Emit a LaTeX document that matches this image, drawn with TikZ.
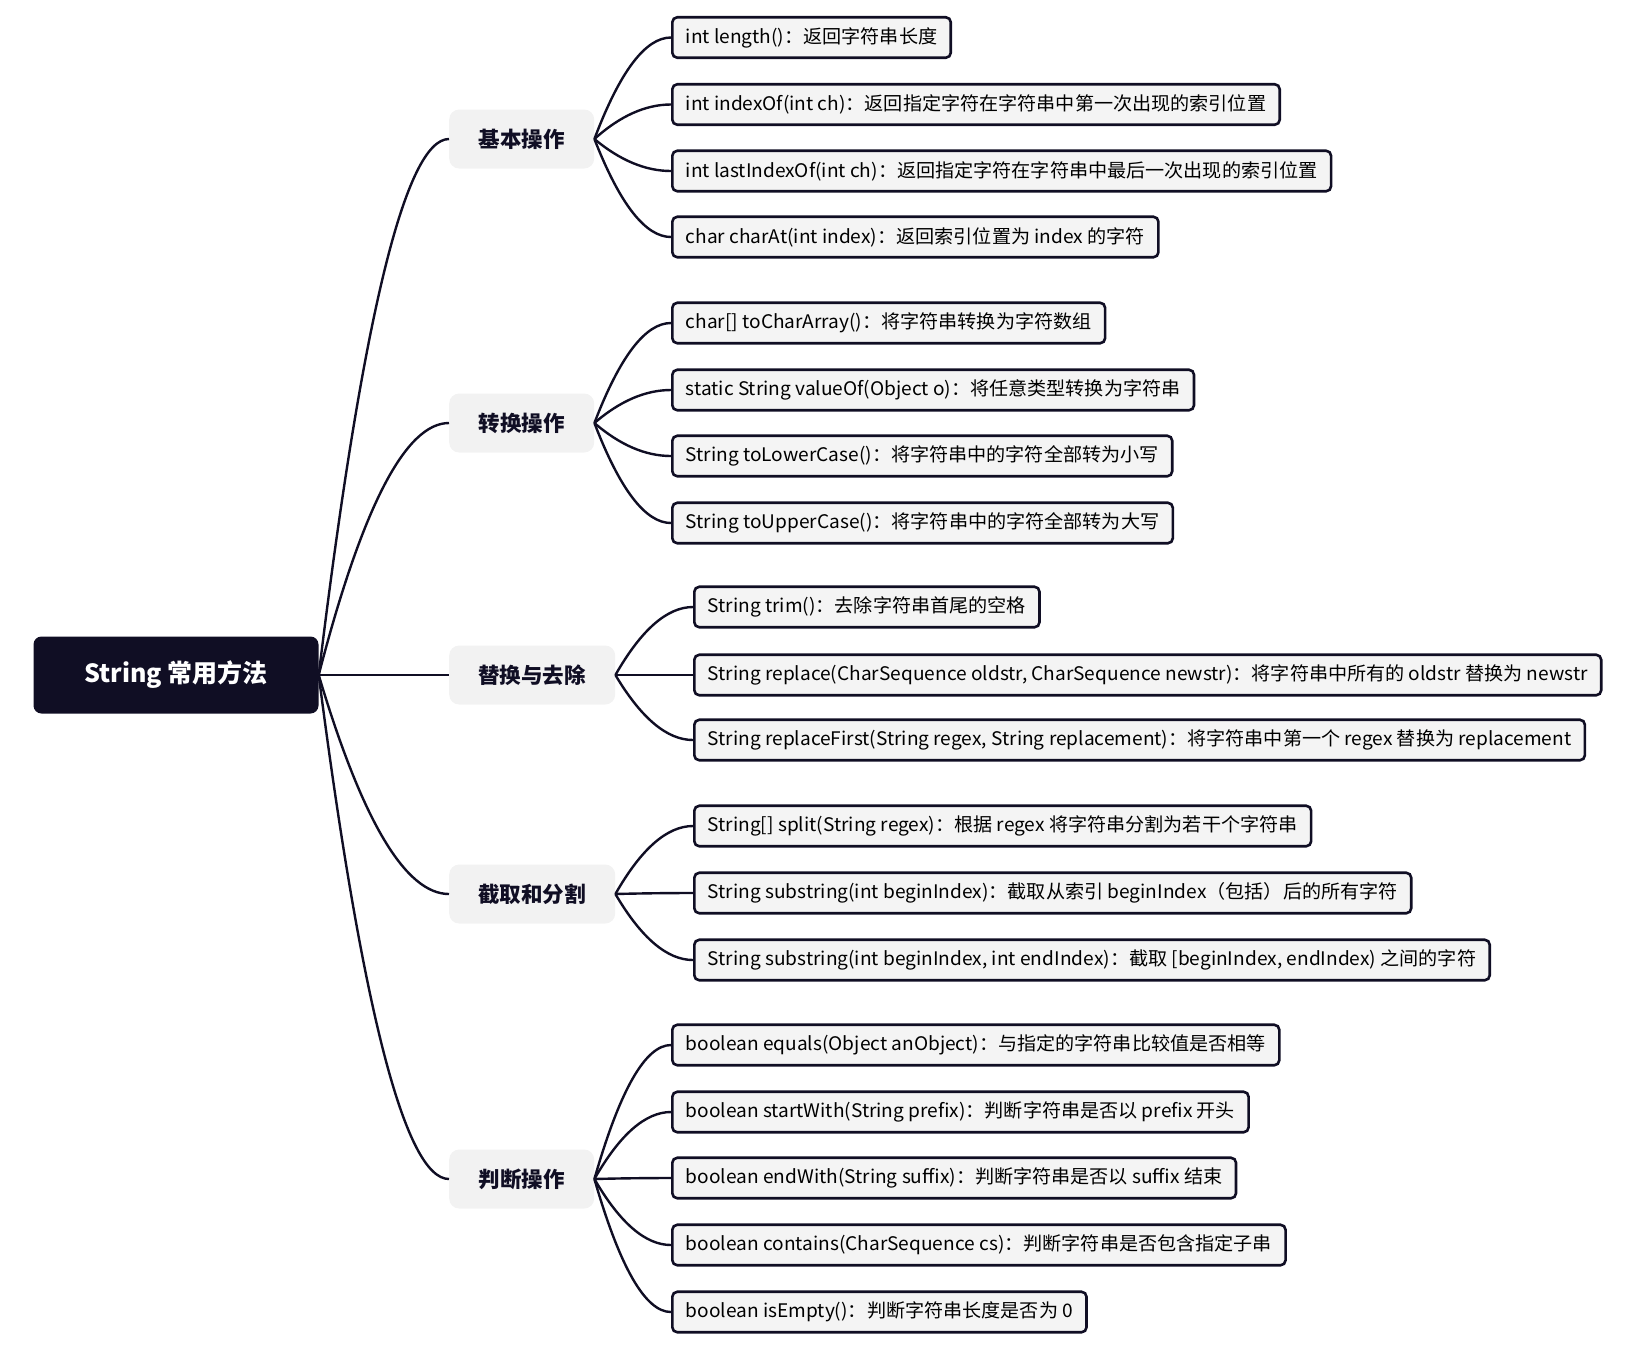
\documentclass[tikz,border=0pt]{standalone}
\usepackage{fontspec}
\setmainfont{Noto Sans CJK SC}
\newfontfamily\leaffont[FakeStretch=1.022]{Noto Sans CJK SC}
\usetikzlibrary{calc}
\definecolor{ink}{HTML}{100E24}
\definecolor{leaffill}{HTML}{F4F4F4}
\definecolor{brfill}{HTML}{F2F2F2}
\newcommand{\mlink}[2]{\draw[link] let \p1=(#1.east), \p2=(#2.west) in (\p1) .. controls ({\x1+(\x2-\x1)/3}, {\y1+2*(\y2-\y1)/3}) and ({\x2-(\x2-\x1)/3}, \y2) .. (\p2);}
\begin{document}
\begin{tikzpicture}[x=1pt,y=-1pt,
 rootbox/.style={fill=ink, rounded corners=8pt, text=white, font=\fontsize{25}{30}\selectfont\bfseries, minimum width=285pt, minimum height=77pt, inner sep=0pt},
 branch/.style={fill=brfill, rounded corners=10pt, text=ink, font=\fontsize{21.5}{26}\selectfont\bfseries, minimum height=59pt, inner sep=0pt, anchor=west},
 leaf/.style={draw=ink, line width=2.6pt, fill=leaffill, rounded corners=5pt, font=\leaffont\fontsize{18.7}{22}\selectfont, text=black, minimum height=40.5pt, inner xsep=13.5pt, inner ysep=0pt, anchor=west},
 link/.style={draw=ink, line width=2.4pt}
]
\useasboundingbox (0,0) rectangle (1648,1345);
\node[rootbox] (root) at (176,675) {String 常用方法};
\node[branch, minimum width=145pt] (b1) at (449,139) {基本操作};
\node[branch, minimum width=145pt] (b2) at (449,423) {转换操作};
\node[branch, minimum width=166pt] (b3) at (449,675) {替换与去除};
\node[branch, minimum width=166pt] (b4) at (449,894) {截取和分割};
\node[branch, minimum width=145pt] (b5) at (449,1179) {判断操作};
% leaves
\node[leaf] (l1) at (671,37.5) {int length()：返回字符串长度};
\node[leaf] (l2) at (671,104.5) {int indexOf(int ch)：返回指定字符在字符串中第一次出现的索引位置};
\node[leaf] (l3) at (671,171) {int lastIndexOf(int ch)：返回指定字符在字符串中最后一次出现的索引位置};
\node[leaf] (l4) at (671,237) {char charAt(int index)：返回索引位置为 index 的字符};
\node[leaf] (l5) at (671,323) {char[] toCharArray()：将字符串转换为字符数组};
\node[leaf] (l6) at (671,390) {static String valueOf(Object o)：将任意类型转换为字符串};
\node[leaf] (l7) at (671,456) {String toLowerCase()：将字符串中的字符全部转为小写};
\node[leaf] (l8) at (671,523) {String toUpperCase()：将字符串中的字符全部转为大写};
\node[leaf] (l9) at (693,607) {String trim()：去除字符串首尾的空格};
\node[leaf] (l10) at (693,675) {String replace(CharSequence oldstr, CharSequence newstr)：将字符串中所有的 oldstr 替换为 newstr};
\node[leaf] (l11) at (693,740) {String replaceFirst(String regex, String replacement)：将字符串中第一个 regex 替换为 replacement};
\node[leaf] (l12) at (693,826) {String[] split(String regex)：根据 regex 将字符串分割为若干个字符串};
\node[leaf] (l13) at (693,893) {String substring(int beginIndex)：截取从索引 beginIndex（包括）后的所有字符};
\node[leaf] (l14) at (693,960) {String substring(int beginIndex, int endIndex)：截取 [beginIndex, endIndex) 之间的字符};
\node[leaf] (l15) at (671,1045) {boolean equals(Object anObject)：与指定的字符串比较值是否相等};
\node[leaf] (l16) at (671,1112) {boolean startWith(String prefix)：判断字符串是否以 prefix 开头};
\node[leaf] (l17) at (671,1178) {boolean endWith(String suffix)：判断字符串是否以 suffix 结束};
\node[leaf] (l18) at (671,1245) {boolean contains(CharSequence cs)：判断字符串是否包含指定子串};
\node[leaf] (l19) at (671,1312) {boolean isEmpty()：判断字符串长度是否为 0};
% connectors
\foreach \b in {b1,b2,b3,b4,b5} {\mlink{root}{\b}}
\foreach \l in {l1,l2,l3,l4} {\mlink{b1}{\l}}
\foreach \l in {l5,l6,l7,l8} {\mlink{b2}{\l}}
\foreach \l in {l9,l10,l11} {\mlink{b3}{\l}}
\foreach \l in {l12,l13,l14} {\mlink{b4}{\l}}
\foreach \l in {l15,l16,l17,l18,l19} {\mlink{b5}{\l}}
\end{tikzpicture}
\end{document}
